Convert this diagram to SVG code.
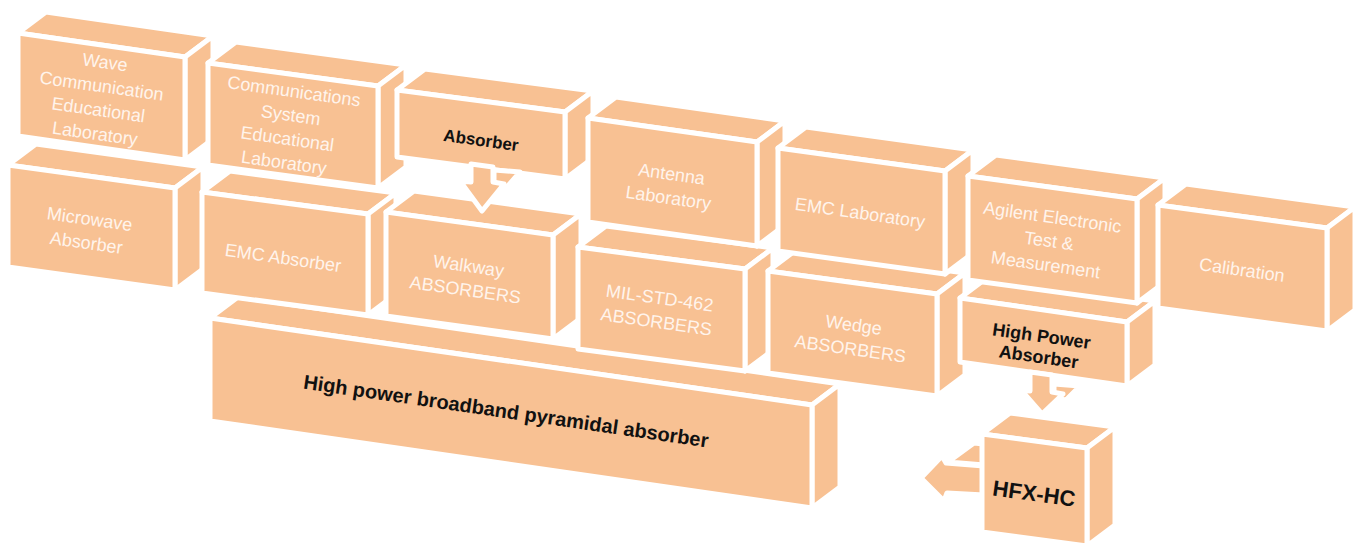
<svg xmlns="http://www.w3.org/2000/svg" width="1369" height="549" viewBox="0 0 1369 549">
<style>
.f{fill:#F8C193;stroke:#FFFFFF;stroke-width:5;stroke-linejoin:round}
.lt{font-family:"Liberation Sans",Arial,sans-serif;font-size:18px;fill:#FFF4EC;text-anchor:middle}
.bt{font-family:"Liberation Sans",Arial,sans-serif;font-weight:bold;fill:#111111;text-anchor:middle}
</style>
<rect x="0" y="0" width="1369" height="549" fill="#FFFFFF"/>

<!-- Row 3 -->
<g id="node-pyramidal">
<polygon class="f" points="210,318 238,297 840,384 812,405"/>
<polygon class="f" points="812,405 840,384 840,487 812,508"/>
<polygon class="f" points="210,318 812,405 812,508 210,421"/>
<text class="bt" font-size="20" transform="translate(505,418) rotate(8.3)">High power broadband pyramidal absorber</text>
</g>

<g id="connectors">
<polygon class="f" points="948,462 974,443 984,444 984,465"/>
<polygon class="f" points="984,466 946,463 942,456 921,478 944,501 947,493 984,495"/>
</g>

<g id="node-hfx">
<polygon class="f" points="982,434 1010,413 1115,427 1087,448"/>
<polygon class="f" points="1087,448 1115,427 1115,525 1087,546"/>
<polygon class="f" points="982,434 1087,448 1087,546 982,532"/>
<text class="bt" font-size="22" transform="translate(1033,501) rotate(8)">HFX-HC</text>
</g>

<!-- Row 2 -->
<g id="node-microwave">
<polygon class="f" points="8,165 36,144 203,167 175,188"/>
<polygon class="f" points="175,188 203,167 203,269 175,290"/>
<polygon class="f" points="8,165 175,188 175,290 8,267"/>
<text class="lt" transform="translate(88,231) rotate(8)"><tspan x="0" y="-6">Microwave</tspan><tspan x="0" y="18">Absorber</tspan></text>
</g>

<g id="node-emc-absorber">
<polygon class="f" points="202,192 230,171 396,193 368,214"/>
<polygon class="f" points="368,214 396,193 396,294 368,315"/>
<polygon class="f" points="202,192 368,214 368,315 202,293"/>
<text class="lt" transform="translate(283,258) rotate(8)"><tspan x="0" y="6">EMC Absorber</tspan></text>
</g>

<g id="node-walkway">
<polygon class="f" points="386,212 414,191 581,214 553,235"/>
<polygon class="f" points="553,235 581,214 581,318 553,339"/>
<polygon class="f" points="386,212 553,235 553,339 386,316"/>
<text class="lt" transform="translate(467,278) rotate(8)"><tspan x="0" y="-6">Walkway</tspan><tspan x="0" y="18">ABSORBERS</tspan></text>
</g>

<g id="node-milstd">
<polygon class="f" points="578,247 606,226 773,248 745,269"/>
<polygon class="f" points="745,269 773,248 773,350 745,371"/>
<polygon class="f" points="578,247 745,269 745,371 578,349"/>
<text class="lt" transform="translate(658,310) rotate(8)"><tspan x="0" y="-6">MIL-STD-462</tspan><tspan x="0" y="18">ABSORBERS</tspan></text>
</g>

<g id="node-wedge">
<polygon class="f" points="768,271 796,250 965,273 937,294"/>
<polygon class="f" points="937,294 965,273 965,375 937,396"/>
<polygon class="f" points="768,271 937,294 937,396 768,373"/>
<text class="lt" transform="translate(852,337) rotate(8)"><tspan x="0" y="-6">Wedge</tspan><tspan x="0" y="18">ABSORBERS</tspan></text>
</g>

<g id="node-high-power-absorber">
<polygon class="f" points="960,298 988,277 1155,301 1127,322"/>
<polygon class="f" points="1127,322 1155,301 1155,365 1127,386"/>
<polygon class="f" points="960,298 1127,322 1127,386 960,362"/>
<text class="bt" font-size="18" transform="translate(1040,347) rotate(8)"><tspan x="0" y="-5">High Power</tspan><tspan x="0" y="16">Absorber</tspan></text>
</g>

<g id="connectors-2">
<polygon class="f" points="1054,384 1080,386 1066,400 1054,398"/>
<polygon class="f" points="1030,372 1052,375 1052,392 1063,394 1042,414 1021,390 1030,391"/>
</g>

<!-- Row 1 -->
<g id="node-wave">
<polygon class="f" points="18,33 46,12 213,36 185,57"/>
<polygon class="f" points="185,57 213,36 213,139 185,160"/>
<polygon class="f" points="18,33 185,57 185,160 18,136"/>
<text class="lt" transform="translate(100,98) rotate(8)"><tspan x="0" y="-30">Wave</tspan><tspan x="0" y="-6">Communication</tspan><tspan x="0" y="18">Educational</tspan><tspan x="0" y="42">Laboratory</tspan></text>
</g>

<g id="node-communications">
<polygon class="f" points="208,63 236,42 406,65 378,86"/>
<polygon class="f" points="378,86 406,65 406,167 378,188"/>
<polygon class="f" points="208,63 378,86 378,188 208,165"/>
<text class="lt" transform="translate(289,127) rotate(8)"><tspan x="0" y="-30">Communications</tspan><tspan x="0" y="-6">System</tspan><tspan x="0" y="18">Educational</tspan><tspan x="0" y="42">Laboratory</tspan></text>
</g>

<g id="node-absorber">
<polygon class="f" points="397,90 425,69 593,91 565,112"/>
<polygon class="f" points="565,112 593,91 593,158 565,179"/>
<polygon class="f" points="397,90 565,112 565,179 397,157"/>
<text class="bt" font-size="17" transform="translate(481,140) rotate(8)"><tspan x="0" y="6">Absorber</tspan></text>
</g>

<g id="connectors-3">
<polygon class="f" points="494,170 520,172 506,188 494,186"/>
<polygon class="f" points="471,164 493,167 493,182 504,184 482,211 460,181 471,182"/>
</g>

<g id="node-antenna">
<polygon class="f" points="588,118 616,97 785,121 757,142"/>
<polygon class="f" points="757,142 785,121 785,225 757,246"/>
<polygon class="f" points="588,118 757,142 757,246 588,222"/>
<text class="lt" transform="translate(670,186) rotate(8)"><tspan x="0" y="-6">Antenna</tspan><tspan x="0" y="18">Laboratory</tspan></text>
</g>

<g id="node-emc-laboratory">
<polygon class="f" points="778,148 806,127 973,150 945,171"/>
<polygon class="f" points="945,171 973,150 973,253 945,274"/>
<polygon class="f" points="778,148 945,171 945,274 778,251"/>
<text class="lt" transform="translate(860,213) rotate(8)"><tspan x="0" y="6">EMC Laboratory</tspan></text>
</g>

<g id="node-agilent">
<polygon class="f" points="968,176 996,155 1165,178 1137,199"/>
<polygon class="f" points="1137,199 1165,178 1165,282 1137,303"/>
<polygon class="f" points="968,176 1137,199 1137,303 968,280"/>
<text class="lt" transform="translate(1049,241) rotate(8)"><tspan x="0" y="-18">Agilent Electronic</tspan><tspan x="0" y="6">Test &amp;</tspan><tspan x="0" y="30">Measurement</tspan></text>
</g>

<g id="node-calibration">
<polygon class="f" points="1158,205 1186,184 1355,207 1327,228"/>
<polygon class="f" points="1327,228 1355,207 1355,310 1327,331"/>
<polygon class="f" points="1158,205 1327,228 1327,331 1158,308"/>
<text class="lt" transform="translate(1242,270) rotate(8)"><tspan x="0" y="6">Calibration</tspan></text>
</g>
</svg>
